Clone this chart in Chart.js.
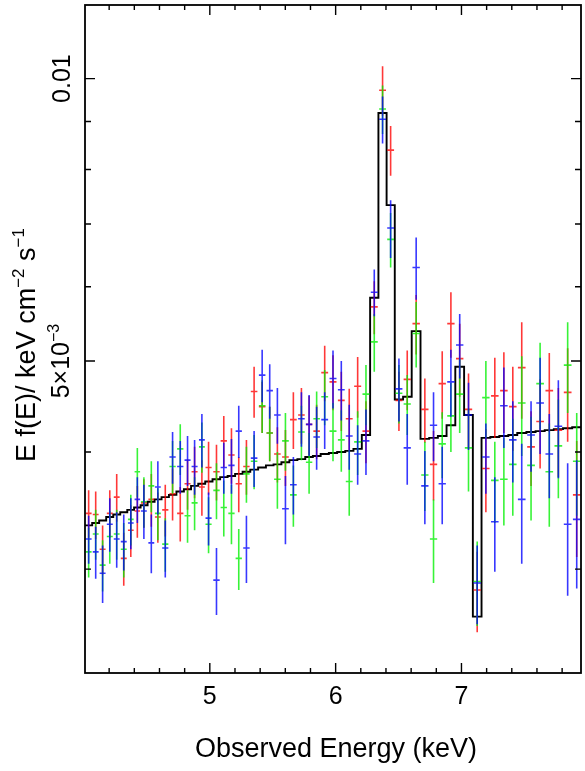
<!DOCTYPE html>
<html>
<head>
<meta charset="utf-8">
<script src="https://cdn.jsdelivr.net/npm/chart.js@4.4.0/dist/chart.umd.min.js"></script>
<style>
  html, body { margin: 0; padding: 0; background: #fff; }
</style>
</head>
<body>
<canvas id="spec" width="585" height="771"></canvas>
<script>
// bin centres, observed energy (keV)
const energy = [
  4.037, 4.093, 4.148, 4.205, 4.260, 4.316, 4.372, 4.424, 4.476, 4.535,
  4.587, 4.646, 4.704, 4.765, 4.823, 4.879, 4.937, 4.990, 5.053, 5.111,
  5.172, 5.230, 5.291, 5.352, 5.416, 5.476, 5.537, 5.601, 5.664, 5.728,
  5.789, 5.849, 5.913, 5.979, 6.045, 6.108, 6.175, 6.241, 6.307, 6.373,
  6.437, 6.503, 6.569, 6.640, 6.709, 6.778, 6.847, 6.916, 6.986, 7.056,
  7.125, 7.194, 7.265, 7.337, 7.408, 7.479, 7.553, 7.625, 7.698, 7.770,
  7.844, 7.916
];

// all fluxes below are in units of 1e-3 keV cm^-2 s^-1
const UNIT = 1e-3;

// folded model, one value per bin
const model = [
  3.34, 3.36, 3.38, 3.41, 3.43, 3.45, 3.47, 3.49, 3.51, 3.54,
  3.56, 3.58, 3.60, 3.63, 3.65, 3.68, 3.70, 3.72, 3.74, 3.76,
  3.77, 3.79, 3.81, 3.83, 3.85, 3.87, 3.88, 3.90, 3.92, 3.93,
  3.95, 3.96, 3.98, 3.99, 4.00, 4.01, 4.03, 4.17, 5.84, 9.19,
  7.33, 4.55, 4.58, 5.38, 4.13, 4.14, 4.16, 4.27, 4.93, 4.38,
  2.67, 4.14, 4.15, 4.16, 4.17, 4.19, 4.20, 4.21, 4.22, 4.23,
  4.24, 4.25
];

const redFlux = [
  3.44, 3.43, 3.15, 3.44, 3.58, 3.08, 3.30, 3.46, 3.53, 3.56,
  3.41, 3.47, 3.61, 3.44, 3.70, 3.81, 3.67, 3.85, 3.81, 4.11,
  3.97, 3.70, 3.86, 4.64, 4.47, 4.19, 3.98, 3.95, 4.33, 4.38,
  4.28, 4.21, 4.86, 4.75, 4.54, 4.34, 4.70, 4.21, 5.71, 9.72,
  8.39, 4.54, 4.78, 5.48, 4.44, 3.88, 4.73, 5.48, 5.03, 4.44,
  2.85, 3.84, 4.59, 4.65, 4.47, 4.92, 4.05, 4.31, 4.65, 4.22,
  4.63, 3.60
];
const redErr = [
  0.20, 0.20, 0.19, 0.20, 0.21, 0.20, 0.21, 0.22, 0.21, 0.23,
  0.21, 0.22, 0.23, 0.23, 0.23, 0.24, 0.25, 0.25, 0.26, 0.26,
  0.27, 0.25, 0.26, 0.29, 0.28, 0.28, 0.27, 0.27, 0.30, 0.30,
  0.31, 0.28, 0.33, 0.32, 0.33, 0.33, 0.35, 0.32, 0.37, 0.59,
  0.51, 0.33, 0.35, 0.40, 0.35, 0.33, 0.39, 0.44, 0.45, 0.41,
  0.28, 0.39, 0.45, 0.46, 0.46, 0.58, 0.37, 0.47, 0.45, 0.46,
  0.53, 0.51
];

const greenFlux = [
  3.13, 3.27, 3.03, 3.25, 3.27, 3.15, 3.39, 3.81, 3.54, 3.68,
  3.44, 3.19, 3.86, 4.03, 3.42, 3.53, 4.05, 3.35, 3.64, 3.49,
  3.44, 3.08, 3.79, 3.91, 4.48, 4.19, 3.74, 4.11, 3.60, 4.20,
  3.90, 4.34, 4.58, 4.21, 4.12, 3.72, 4.10, 4.61, 5.24, 9.28,
  6.74, 4.62, 4.50, 5.35, 3.78, 3.23, 4.08, 4.37, 4.61, 4.04,
  2.91, 4.57, 3.73, 3.74, 3.88, 4.51, 3.87, 4.73, 3.81, 4.06,
  4.95, 3.91
];
const greenErr = [
  0.19, 0.20, 0.19, 0.21, 0.20, 0.21, 0.21, 0.23, 0.22, 0.23,
  0.22, 0.21, 0.25, 0.25, 0.22, 0.23, 0.25, 0.23, 0.25, 0.24,
  0.25, 0.23, 0.26, 0.26, 0.29, 0.28, 0.26, 0.29, 0.27, 0.28,
  0.29, 0.30, 0.31, 0.30, 0.31, 0.30, 0.32, 0.34, 0.37, 0.55,
  0.45, 0.33, 0.33, 0.43, 0.32, 0.33, 0.33, 0.37, 0.42, 0.41,
  0.30, 0.43, 0.37, 0.40, 0.46, 0.55, 0.49, 0.50, 0.48, 0.49,
  0.55, 0.49
];

const blueFlux = [
  3.23, 3.13, 2.97, 3.35, 3.23, 3.21, 3.36, 3.56, 3.46, 3.20,
  3.67, 3.16, 3.95, 3.86, 3.92, 3.86, 4.12, 3.40, 2.92, 3.85,
  3.87, 4.21, 3.16, 3.94, 4.83, 4.65, 4.38, 3.48, 3.69, 4.34,
  4.28, 4.15, 4.33, 4.79, 4.66, 4.16, 3.98, 4.11, 5.92, 9.05,
  6.93, 4.67, 4.04, 6.29, 3.68, 4.27, 3.70, 4.75, 5.20, 4.38,
  2.90, 3.95, 3.37, 4.48, 4.12, 3.56, 4.17, 4.51, 3.98, 4.26,
  3.35, 3.39
];
const blueErr = [
  0.19, 0.20, 0.21, 0.22, 0.22, 0.22, 0.21, 0.20, 0.23, 0.23,
  0.24, 0.22, 0.25, 0.25, 0.24, 0.26, 0.27, 0.22, 0.24, 0.24,
  0.26, 0.27, 0.26, 0.27, 0.31, 0.31, 0.30, 0.29, 0.26, 0.29,
  0.32, 0.32, 0.30, 0.34, 0.34, 0.33, 0.29, 0.33, 0.34, 0.52,
  0.49, 0.36, 0.35, 0.48, 0.33, 0.36, 0.35, 0.39, 0.41, 0.36,
  0.28, 0.34, 0.39, 0.44, 0.41, 0.52, 0.36, 0.53, 0.41, 0.51,
  0.54, 0.53
];

// axis ranges and tick marks
const X_MIN = 4.008, X_MAX = 7.95;
const Y_MIN = 2.325e-3, Y_MAX = 1.198e-2;
const xMajor = [5, 6, 7];
const xMinor = [4.2, 4.4, 4.6, 4.8, 5.2, 5.4, 5.6, 5.8, 6.2, 6.4, 6.6, 6.8, 7.2, 7.4, 7.6, 7.8];
const yMajor = [0.005, 0.01];
const yMinor = [0.003, 0.004, 0.006, 0.007, 0.008, 0.009];
const xTickLabels = ['5', '6', '7'];

const FONT = '"Liberation Sans", Arial, Helvetica, sans-serif';

function points(vals) {
  return energy.map((e, i) => ({ x: e, y: vals[i] * UNIT }));
}

// histogram: pad the first and last bin out to the frame edges
const modelPts = [{ x: X_MIN, y: model[0] * UNIT }, ...points(model),
                  { x: X_MAX, y: model[model.length - 1] * UNIT }];

// crosses: vertical 1-sigma bar plus a horizontal bar across the bin
const errorBars = {
  id: 'errorBars',
  afterDatasetsDraw(chart) {
    const { ctx, chartArea: a, scales: { x, y } } = chart;
    ctx.save();
    ctx.beginPath();
    ctx.rect(a.left, a.top, a.right - a.left, a.bottom - a.top);
    ctx.clip();
    chart.data.datasets.forEach(ds => {
      if (!ds.errors) return;
      ctx.strokeStyle = ds.barColor;
      ctx.lineWidth = 1.6;
      ds.data.forEach((p, i) => {
        const px = x.getPixelForValue(p.x);
        const prev = x.getPixelForValue(energy[Math.max(i - 1, 0)]);
        const next = x.getPixelForValue(energy[Math.min(i + 1, energy.length - 1)]);
        const half = (next - prev) / (i === 0 || i === energy.length - 1 ? 1 : 2) * 0.42;
        const err = ds.errors[i] * UNIT;
        const py = y.getPixelForValue(p.y);
        ctx.beginPath();
        ctx.moveTo(px, y.getPixelForValue(p.y + err));
        ctx.lineTo(px, y.getPixelForValue(p.y - err));
        ctx.moveTo(px - half, py);
        ctx.lineTo(px + half, py);
        ctx.stroke();
      });
    });
    ctx.restore();
  }
};

// draws text pieces in a row, superscripts smaller and raised
function richText(ctx, parts, cx, baseY, size) {
  const supSize = Math.round(size * 0.62);
  const widthOf = p => { ctx.font = (p.sup ? supSize : size) + 'px ' + FONT; return ctx.measureText(p.t).width; };
  const total = parts.reduce((s, p) => s + widthOf(p), 0);
  let xx = cx - total / 2;
  ctx.textAlign = 'left';
  ctx.textBaseline = 'alphabetic';
  parts.forEach(p => {
    const w = widthOf(p);
    ctx.fillText(p.t, xx, p.sup ? baseY - size * 0.42 : baseY);
    xx += w;
  });
}

function rotatedText(ctx, parts, baseX, centerY, size) {
  ctx.save();
  ctx.translate(baseX, centerY);
  ctx.rotate(-Math.PI / 2);
  richText(ctx, parts, 0, 0, size);
  ctx.restore();
}

// frame, inward ticks on all four sides, labels
const axisFrame = {
  id: 'axisFrame',
  afterDraw(chart) {
    const { ctx, chartArea: a, scales: { x, y } } = chart;
    ctx.save();
    ctx.strokeStyle = '#000';
    ctx.fillStyle = '#000';
    ctx.lineWidth = 1.4;
    ctx.beginPath();
    const xt = (v, len) => {
      const px = x.getPixelForValue(v);
      ctx.moveTo(px, a.bottom); ctx.lineTo(px, a.bottom - len);
      ctx.moveTo(px, a.top); ctx.lineTo(px, a.top + len);
    };
    const yt = (v, len) => {
      const py = y.getPixelForValue(v);
      ctx.moveTo(a.left, py); ctx.lineTo(a.left + len, py);
      ctx.moveTo(a.right, py); ctx.lineTo(a.right - len, py);
    };
    xMajor.forEach(v => xt(v, 10));
    xMinor.forEach(v => xt(v, 5));
    yMajor.forEach(v => yt(v, 10));
    yMinor.forEach(v => yt(v, 6));
    ctx.stroke();

    ctx.lineWidth = 1.8;
    ctx.strokeRect(a.left, a.top, a.right - a.left, a.bottom - a.top);

    // x axis
    ctx.font = '25px ' + FONT;
    ctx.textAlign = 'center';
    ctx.textBaseline = 'alphabetic';
    xMajor.forEach((v, i) => ctx.fillText(xTickLabels[i], x.getPixelForValue(v), 704));
    richText(ctx, [{ t: 'Observed Energy (keV)' }], 336, 757, 27);

    // y axis
    rotatedText(ctx, [{ t: '0.01' }], 70, y.getPixelForValue(0.01), 25);
    rotatedText(ctx, [{ t: '5×10' }, { t: '−3', sup: true }], 69, y.getPixelForValue(0.005), 25);
    rotatedText(ctx, [{ t: 'E f(E)/ keV cm' }, { t: '−2', sup: true }, { t: ' s' }, { t: '−1', sup: true }],
                35, 345, 27);
    ctx.restore();
  }
};

new Chart(document.getElementById('spec'), {
  type: 'scatter',
  data: {
    datasets: [
      {
        type: 'line',
        label: 'model',
        data: modelPts,
        stepped: 'middle',
        borderColor: '#000',
        borderWidth: 1.9,
        pointRadius: 0,
        fill: false
      },
      { label: 'red', data: points(redFlux), errors: redErr, barColor: 'rgba(255,0,0,0.78)', pointRadius: 0 },
      { label: 'green', data: points(greenFlux), errors: greenErr, barColor: 'rgba(0,240,0,0.78)', pointRadius: 0 },
      { label: 'blue', data: points(blueFlux), errors: blueErr, barColor: 'rgba(0,0,255,0.78)', pointRadius: 0 }
    ]
  },
  options: {
    responsive: false,
    animation: false,
    layout: { padding: { left: 85, right: 4, top: 5, bottom: 98 } },
    plugins: { legend: { display: false }, tooltip: { enabled: false } },
    scales: {
      x: { type: 'linear', min: X_MIN, max: X_MAX, display: false },
      y: { type: 'logarithmic', min: Y_MIN, max: Y_MAX, display: false }
    }
  },
  plugins: [errorBars, axisFrame]
});
</script>
</body>
</html>
